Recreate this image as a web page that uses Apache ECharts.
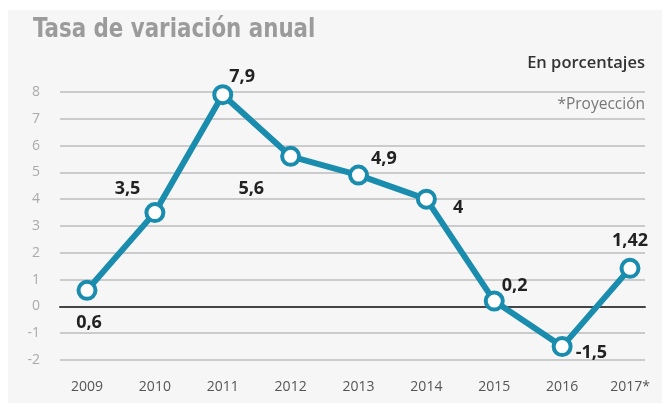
<!DOCTYPE html>
<html><head><meta charset="utf-8">
<script src="https://cdn.jsdelivr.net/npm/echarts@6/dist/echarts.min.js"></script>
<style>html,body{margin:0;padding:0;background:#fff}#c{width:662px;height:403px}</style>
</head><body><div id="c"></div>
<script>
const years = ['2009','2010','2011','2012','2013','2014','2015','2016','2017*'];
const values = [0.6, 3.5, 7.9, 5.6, 4.9, 4, 0.2, -1.5, 1.42];
const labelTexts = ['0,6','3,5','7,9','5,6','4,9','4','0,2','-1,5','1,42'];
const yTicks = [-2,-1,0,1,2,3,4,5,6,7,8];
const labelPos = [
  {position:'bottom', offset:[2,7]},
  {position:'left', offset:[2,-24]},
  {position:'right', offset:[-10,-18]},
  {position:'left', offset:[-10,33]},
  {position:'right', offset:[-4,-16]},
  {position:'right', offset:[10,9]},
  {position:'right', offset:[-9,-15]},
  {position:'right', offset:[-3,6]},
  {position:'top', offset:[0,-2]}
];
const chart = echarts.init(document.getElementById('c'), null, {renderer:'canvas'});
const yMin = yTicks[0], yMax = yTicks[yTicks.length-1];
chart.setOption({
  animation:false,
  backgroundColor:'#fff',
  graphic:[
    {type:'rect', shape:{x:8,y:10,width:654,height:393}, style:{fill:'#f6f6f6'}, z:-10},
    {type:'text', x:33, y:16, scaleX:0.88, style:{text:'Tasa de variación anual', font:'bold 27px "DejaVu Sans Condensed", sans-serif', fill:'#9b9b9b'}},
    {type:'text', right:17, top:55, style:{text:'En porcentajes', font:'600 16.5px "Open Sans", sans-serif', fill:'#333', textAlign:'right'}},
    {type:'text', right:17, top:97, style:{text:'*Proyección', font:'15.5px "Open Sans", sans-serif', fill:'#777', textAlign:'right'}}
  ],
  grid:[
    {left:87, right:32, top:92, bottom:43},
    {left:60, right:17, top:92, bottom:43}
  ],
  xAxis:[
    {gridIndex:0, type:'category', data:years, boundaryGap:false,
     axisLine:{show:false}, axisTick:{show:false}, splitLine:{show:false},
     axisLabel:{color:'#555', fontSize:14, margin:20, fontFamily:'"Open Sans", sans-serif'}},
    {gridIndex:1, type:'value', min:0, max:1, axisLabel:{show:false}, axisTick:{show:false}, splitLine:{show:false},
     axisLine:{show:true, onZero:true, lineStyle:{color:'#444', width:2}}}
  ],
  yAxis:[
    {gridIndex:0, type:'value', min:yMin, max:yMax, interval:1, show:false, splitLine:{show:false}},
    {gridIndex:1, type:'value', min:yMin, max:yMax, interval:1,
     axisLine:{show:false}, axisTick:{show:false},
     axisLabel:{color:'#aaa', fontSize:14, margin:20, fontFamily:'"Open Sans", sans-serif'},
     splitLine:{show:true, lineStyle:{color:'#bcbcbc', width:1.5}}}
  ],
  series:[{
    type:'line', xAxisIndex:0, yAxisIndex:0,
    data: values.map((v,i)=>({value:v, label:Object.assign({show:true, formatter:labelTexts[i]}, labelPos[i])})),
    symbol:'circle', symbolSize:17,
    itemStyle:{color:'#fff', borderColor:'#1a8cae', borderWidth:4},
    lineStyle:{color:'#1a8cae', width:6},
    label:{show:true, color:'#222', fontSize:18, fontWeight:'bold', fontFamily:'"Open Sans", sans-serif', distance:6},
    z:5
  }]
});
</script></body></html>
